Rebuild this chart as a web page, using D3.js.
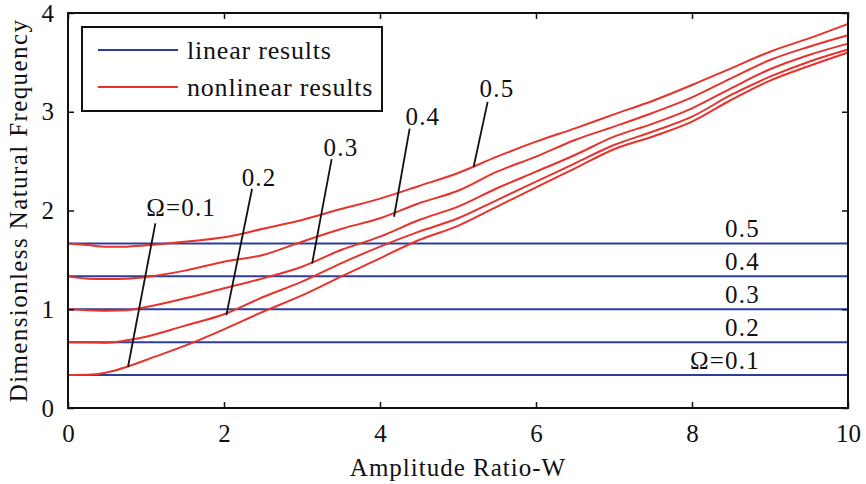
<!DOCTYPE html>
<html>
<head>
<meta charset="utf-8">
<script src="https://cdn.jsdelivr.net/npm/d3@7"></script>
<style>
  body { margin: 0; background: #fff; }
  svg text { font-family: "Liberation Serif", "Times New Roman", serif; }
</style>
</head>
<body>
<script>
// amplitude ratio W sample points
var wValues = [0, 0.25, 0.5, 0.75, 1, 1.5, 2, 2.5, 3, 3.5, 4, 4.5, 5, 5.5, 6, 6.5, 7, 7.5, 8, 8.5, 9, 9.5, 10];

// nonlinear natural frequency, one array per Omega
var nonlinear01 = [0.334, 0.336, 0.36, 0.415, 0.486, 0.631, 0.797, 0.975, 1.14, 1.33, 1.516, 1.701, 1.845, 2.039, 2.235, 2.427, 2.62, 2.75, 2.9, 3.119, 3.315, 3.463, 3.6];
var nonlinear02 = [0.667, 0.667, 0.662, 0.685, 0.722, 0.834, 0.949, 1.124, 1.279, 1.465, 1.634, 1.786, 1.921, 2.106, 2.292, 2.478, 2.663, 2.80, 2.95, 3.17, 3.355, 3.507, 3.63];
var nonlinear03 = [1.0, 0.99, 0.985, 0.99, 1.023, 1.111, 1.212, 1.313, 1.431, 1.6, 1.735, 1.904, 2.039, 2.225, 2.393, 2.562, 2.748, 2.88, 3.035, 3.237, 3.43, 3.575, 3.69];
var nonlinear04 = [1.333, 1.31, 1.306, 1.31, 1.327, 1.391, 1.482, 1.55, 1.684, 1.813, 1.921, 2.073, 2.2, 2.393, 2.545, 2.714, 2.849, 2.99, 3.146, 3.338, 3.524, 3.659, 3.775];
var nonlinear05 = [1.667, 1.65, 1.634, 1.634, 1.647, 1.684, 1.728, 1.815, 1.904, 2.015, 2.12, 2.248, 2.38, 2.545, 2.697, 2.832, 2.974, 3.112, 3.271, 3.44, 3.608, 3.743, 3.89];

// linear (constant) natural frequency per Omega
var linearValues = [1 / 3, 2 / 3, 1, 4 / 3, 5 / 3];
var linearLabels = ["\u03A9=0.1", "0.2", "0.3", "0.4", "0.5"];

// curve labels with leader lines
var curveLabels = ["\u03A9=0.1", "0.2", "0.3", "0.4", "0.5"];
var labelTextW = [1.45, 2.45, 3.5, 4.55, 5.5];
var labelTextV = [1.94, 2.25, 2.55, 2.87, 3.15];
var leaderTop = [[1.12, 1.87], [2.36, 2.22], [3.38, 2.52], [4.38, 2.83], [5.38, 3.10]];
var leaderBottom = [[0.77, 0.418], [2.03, 0.94], [3.13, 1.465], [4.18, 1.937], [5.2, 2.44]];

var xTicks = [0, 2, 4, 6, 8, 10];
var yTicks = [0, 1, 2, 3, 4];

function init() {
    var w = 866, h = 484;
    var left = 68, right = 848, top = 13, bottom = 408;
    var blue = "#2c3e9c", red = "#e8322c";
    var serif = "'Liberation Serif', 'Times New Roman', serif";

    var svg = d3.select("body").append("svg")
        .attr("width", w)
        .attr("height", h)
        .attr("font-family", serif);

    var xScale = d3.scaleLinear().domain([0, 10]).range([left, right]);
    var yScale = d3.scaleLinear().domain([0, 4]).range([bottom, top]);

    var line = d3.line()
        .x(function(d) { return xScale(d[0]); })
        .y(function(d) { return yScale(d[1]); })
        .curve(d3.curveMonotoneX);

    // linear results
    svg.selectAll(".linear")
        .data(linearValues)
        .enter().append("line")
        .attr("x1", xScale(0))
        .attr("x2", xScale(10))
        .attr("y1", function(d) { return yScale(d); })
        .attr("y2", function(d) { return yScale(d); })
        .attr("stroke", blue)
        .attr("stroke-width", 2);

    // nonlinear results
    var series = [nonlinear01, nonlinear02, nonlinear03, nonlinear04, nonlinear05];
    series.forEach(function(s) {
        svg.append("path")
            .datum(s.map(function(v, i) { return [wValues[i], v]; }))
            .attr("d", line)
            .attr("fill", "none")
            .attr("stroke", red)
            .attr("stroke-width", 2);
    });

    // labels for linear lines (right side)
    svg.selectAll(".linLabel")
        .data(linearValues)
        .enter().append("text")
        .attr("x", xScale(8.87))
        .attr("y", function(d) { return yScale(d) - 6; })
        .attr("text-anchor", "end")
        .attr("font-size", 25)
        .attr("letter-spacing", 1.2)
        .attr("fill", "#111")
        .text(function(d, i) { return linearLabels[i]; });

    // curve labels and leader lines
    curveLabels.forEach(function(lab, i) {
        svg.append("line")
            .attr("x1", xScale(leaderTop[i][0]))
            .attr("y1", yScale(leaderTop[i][1]))
            .attr("x2", xScale(leaderBottom[i][0]))
            .attr("y2", yScale(leaderBottom[i][1]))
            .attr("stroke", "#111")
            .attr("stroke-width", 1.8);
        svg.append("text")
            .attr("x", xScale(labelTextW[i]))
            .attr("y", yScale(labelTextV[i]))
            .attr("text-anchor", "middle")
            .attr("font-size", 25)
            .attr("letter-spacing", 1.2)
            .attr("fill", "#111")
            .text(lab);
    });

    // axes (box with inward ticks)
    var gx = svg.append("g")
        .attr("transform", "translate(0," + bottom + ")")
        .call(d3.axisBottom(xScale).tickValues(xTicks).tickFormat(d3.format("d"))
            .tickSizeInner(-6).tickSizeOuter(0).tickPadding(16));
    var gy = svg.append("g")
        .attr("transform", "translate(" + left + ",0)")
        .call(d3.axisLeft(yScale).tickValues(yTicks).tickFormat(d3.format("d"))
            .tickSizeInner(-6).tickSizeOuter(0).tickPadding(14));
    svg.append("g")
        .attr("transform", "translate(0," + top + ")")
        .call(d3.axisTop(xScale).tickValues(xTicks).tickSizeInner(-6).tickSizeOuter(0).tickFormat(""));
    svg.append("g")
        .attr("transform", "translate(" + right + ",0)")
        .call(d3.axisRight(yScale).tickValues(yTicks).tickSizeInner(-6).tickSizeOuter(0).tickFormat(""));
    svg.selectAll(".domain").remove();
    svg.selectAll(".tick line").attr("stroke", "#111").attr("stroke-width", 1.5);
    [gx, gy].forEach(function(g) {
        g.attr("font-family", serif).attr("font-size", 25);
        g.selectAll("text").attr("fill", "#111");
    });

    svg.append("rect")
        .attr("x", left)
        .attr("y", top)
        .attr("width", right - left)
        .attr("height", bottom - top)
        .attr("fill", "none")
        .attr("stroke", "#111")
        .attr("stroke-width", 2);

    // axis titles
    svg.append("text")
        .attr("x", (left + right) / 2)
        .attr("y", 476)
        .attr("text-anchor", "middle")
        .attr("font-size", 25)
        .attr("letter-spacing", 1)
        .attr("fill", "#111")
        .text("Amplitude Ratio-W");
    svg.append("text")
        .attr("transform", "translate(27," + ((top + bottom) / 2) + ") rotate(-90)")
        .attr("text-anchor", "middle")
        .attr("font-size", 25)
        .attr("letter-spacing", 1.4)
        .attr("fill", "#111")
        .text("Dimensionless Natural Frequency");

    // legend
    var lg = svg.append("g");
    lg.append("rect")
        .attr("x", 82).attr("y", 27)
        .attr("width", 300).attr("height", 84)
        .attr("fill", "#fff")
        .attr("stroke", "#111")
        .attr("stroke-width", 2);
    var legendItems = [["linear results", blue], ["nonlinear results", red]];
    legendItems.forEach(function(item, i) {
        var y = 50 + i * 37;
        lg.append("line")
            .attr("x1", 98).attr("x2", 178)
            .attr("y1", y).attr("y2", y)
            .attr("stroke", item[1])
            .attr("stroke-width", 2);
        lg.append("text")
            .attr("x", 187)
            .attr("y", y + 9)
            .attr("font-size", 26)
            .attr("letter-spacing", 0.8)
            .attr("fill", "#111")
            .text(item[0]);
    });
}

window.onload = init;
</script>
</body>
</html>
